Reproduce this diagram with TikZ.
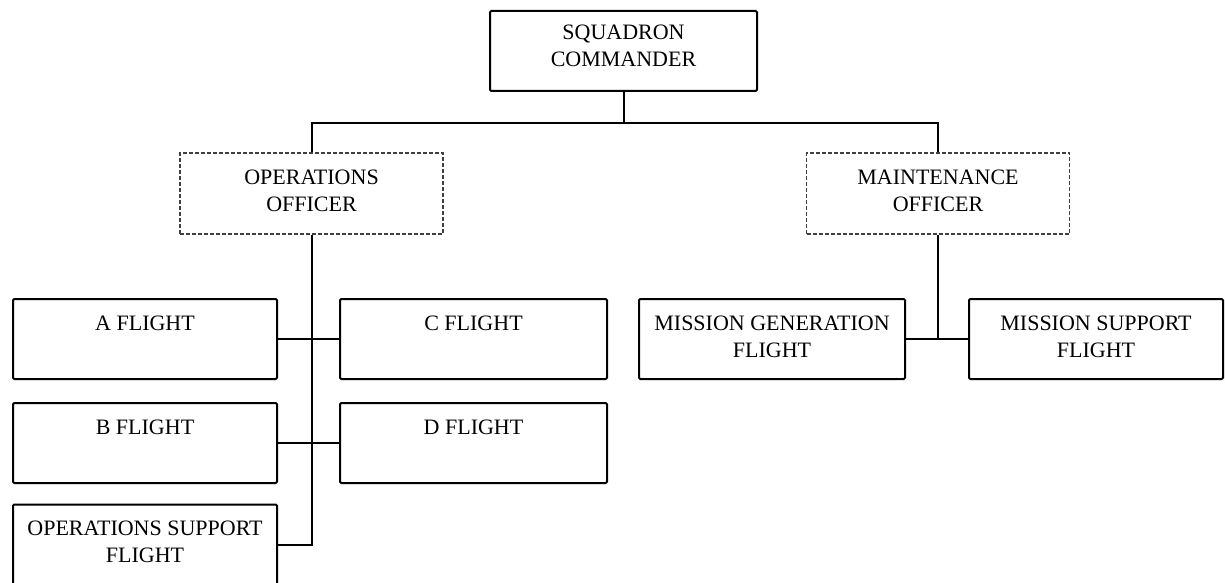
\documentclass[tikz,border=0pt]{standalone}
\usepackage{fontspec}
\setmainfont{Liberation Serif}
\usetikzlibrary{calc, positioning}

\begin{document}
\begin{tikzpicture}[x=0.5pt, y=-0.5pt,
	box/.style={draw, line width=1pt, minimum height=40pt, inner sep=0pt, rounded corners=0.6pt},
	officer/.style={draw=black!75, line width=0.8pt, dash pattern=on 2pt off 1pt, minimum width=131.5pt, minimum height=40.5pt, inner sep=0pt},
	title/.style={anchor=north, align=center, inner sep=0pt, font=\fontsize{11}{13.5}\selectfont},
	link/.style={line width=1pt}]
	\def\drop{17.5};
	
	\useasboundingbox (0,0) rectangle (1225,583);
	
	\coordinate (bus) at (0,123);
	
	\begin{scope}
		\node [box, minimum width=133.5pt] (cmd) at (623.5,51) {};
		\node [officer] (ops) at (311.5,193.5) {};
		\node [officer] (mnt) at (938,193.5) {};
		
		\node [box, minimum width=132pt] (a) at (145,339) {};
		\node [box, minimum width=132pt] (b) at (145,443) {};
		\node [box, minimum width=132pt] (osf) at (145,544.5) {};
		\node [box, minimum width=133.5pt] (c) at (473.5,339) {};
		\node [box, minimum width=133.5pt] (d) at (473.5,443) {};
		
		\node [box, minimum width=133pt] (mg) at (772,339) {};
		\node [box, minimum width=127pt] (ms) at (1096,339) {};
	\end{scope}
	
	\begin{scope}
		\node [title] (cmd-t) at ($ (cmd.north) + (0,14.5) $) {SQUADRON\\COMMANDER};
		\node [title] (ops-t) at ($ (ops.north) + (0,\drop) $) {OPERATIONS\\OFFICER};
		\node [title] (mnt-t) at ($ (mnt.north) + (0,\drop) $) {MAINTENANCE\\OFFICER};
		
		\node [title] (a-t) at ($ (a.north) + (0,\drop) $) {A FLIGHT};
		\node [title] (b-t) at ($ (b.north) + (0,\drop) $) {B FLIGHT};
		\node [title] (osf-t) at ($ (osf.north) + (0,\drop) $) {OPERATIONS SUPPORT\\FLIGHT};
		\node [title] (c-t) at ($ (c.north) + (0,\drop) $) {C FLIGHT};
		\node [title] (d-t) at ($ (d.north) + (0,\drop) $) {D FLIGHT};
		
		\node [title] (mg-t) at ($ (mg.north) + (0,\drop) $) {MISSION GENERATION\\FLIGHT};
		\node [title] (ms-t) at ($ (ms.north) + (0,\drop) $) {MISSION SUPPORT\\FLIGHT};
	\end{scope}
	
	\begin{scope}[link]
		\draw (cmd.south) -- (cmd.south |- bus);
		\draw (ops.north) -- (ops.north |- bus) -- (mnt.north |- bus) -- (mnt.north);
		
		\draw (ops.south) -- (ops.south |- osf.east) -- (osf.east);
		\draw (a.east) -- (c.west);
		\draw (b.east) -- (d.west);
		
		\draw (mnt.south) -- (mnt.south |- mg.east);
		\draw (mg.east) -- (ms.west);
	\end{scope}
\end{tikzpicture}
\end{document}
